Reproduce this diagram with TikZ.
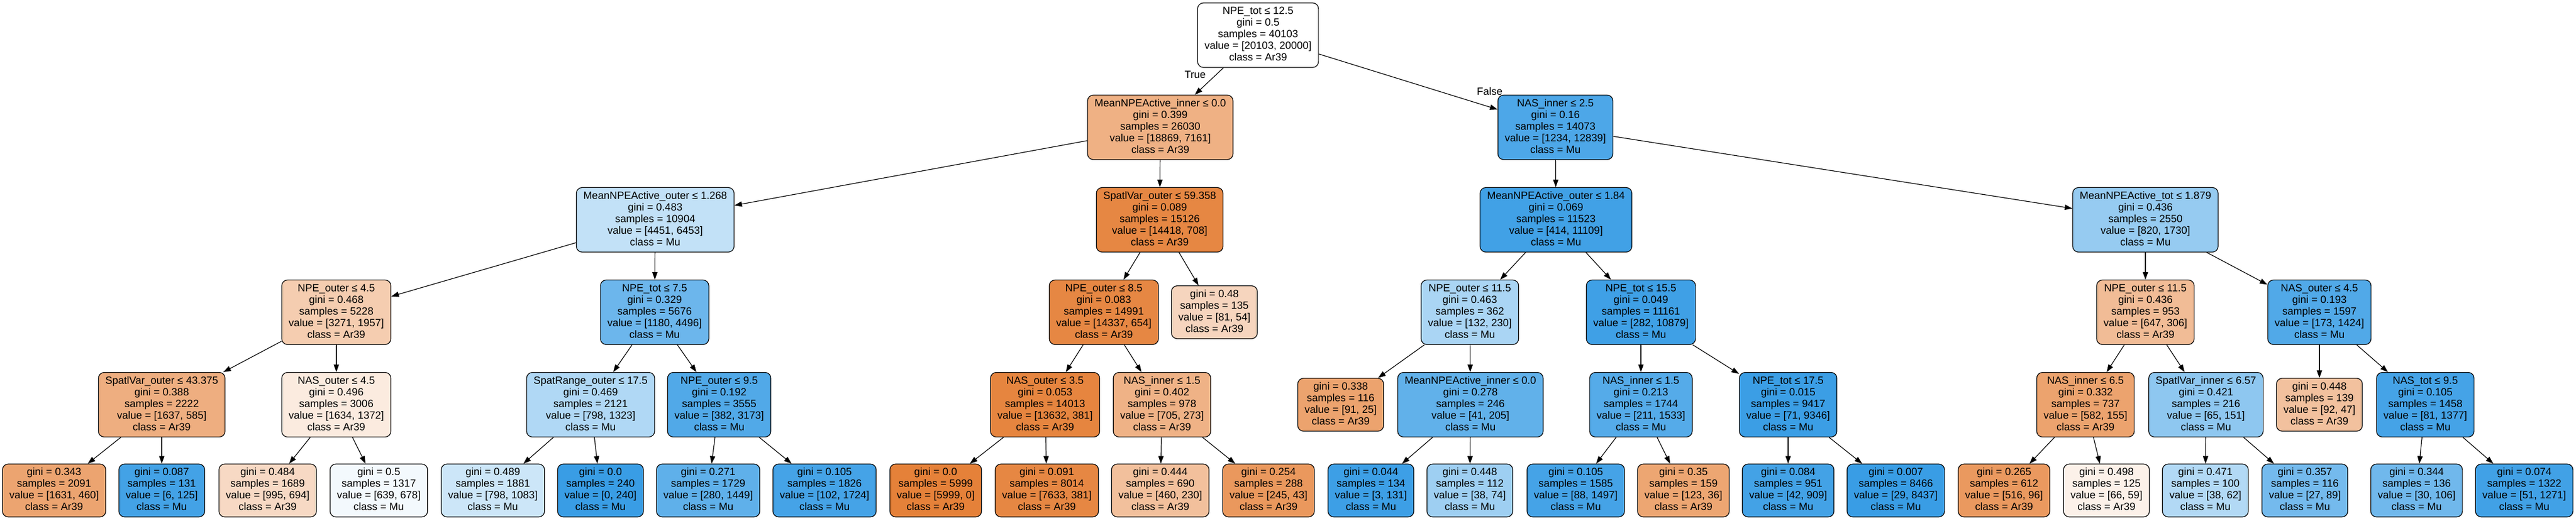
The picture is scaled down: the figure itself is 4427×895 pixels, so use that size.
\documentclass[tikz,border=0pt]{standalone}
\usepackage{fontspec}
\setmainfont{Liberation Sans}
\usetikzlibrary{arrows.meta}
\definecolor{ar}{RGB}{229,129,57}
\definecolor{mu}{RGB}{57,157,229}
\newcommand\splittext[5]{\strut #1\\\strut gini = #2\\\strut samples = #3\\\strut value = [#4]\\\strut class = #5}
\newcommand\leaftext[4]{\strut gini = #1\\\strut samples = #2\\\strut value = [#3]\\\strut class = #4}
\tikzset{
  tree/.style={draw=black, line width=1.2pt, rounded corners=10pt, align=center,
    inner xsep=12pt, inner ysep=5.5pt, font=\fontsize{18}{20}\selectfont},
  edge/.style={draw=black, line width=1.2pt, -{Triangle[length=13pt,width=9pt]}},
  lbl/.style={font=\fontsize{18}{20}\selectfont, inner sep=0pt}
}
\begin{document}
\begin{tikzpicture}[x=1pt,y=1pt]
\useasboundingbox[fill=white] (0,0) rectangle (4427,-895);
% level 0
\node[tree, fill=white] (n0) at (2162,-60.5) {\splittext{NPE\_tot ≤ 12.5}{0.5}{40103}{20103, 20000}{Ar39}};
% level 1
\node[tree, fill=ar!62!white] (n1) at (1994,-219) {\splittext{MeanNPEActive\_inner ≤ 0.0}{0.399}{26030}{18869, 7161}{Ar39}};
\node[tree, fill=mu!90!white] (n2) at (2673,-219) {\splittext{NAS\_inner ≤ 2.5}{0.16}{14073}{1234, 12839}{Mu}};
% level 2
\node[tree, fill=mu!31!white] (n3) at (1126,-378) {\splittext{MeanNPEActive\_outer ≤ 1.268}{0.483}{10904}{4451, 6453}{Mu}};
\node[tree, fill=ar!95!white] (n4) at (1993,-378) {\splittext{SpatlVar\_outer ≤ 59.358}{0.089}{15126}{14418, 708}{Ar39}};
\node[tree, fill=mu!96!white] (n5) at (2674,-378) {\splittext{MeanNPEActive\_outer ≤ 1.84}{0.069}{11523}{414, 11109}{Mu}};
\node[tree, fill=mu!53!white] (n6) at (3687,-378) {\splittext{MeanNPEActive\_tot ≤ 1.879}{0.436}{2550}{820, 1730}{Mu}};
% level 3
\node[tree, fill=ar!40!white] (n7) at (578,-537) {\splittext{NPE\_outer ≤ 4.5}{0.468}{5228}{3271, 1957}{Ar39}};
\node[tree, fill=mu!74!white] (n8) at (1125,-537) {\splittext{NPE\_tot ≤ 7.5}{0.329}{5676}{1180, 4496}{Mu}};
\node[tree, fill=ar!95!white] (n9) at (1897,-537) {\splittext{NPE\_outer ≤ 8.5}{0.083}{14991}{14337, 654}{Ar39}};
\node[tree, fill=ar!33!white] (n10) at (2087,-537) {\leaftext{0.48}{135}{81, 54}{Ar39}};
\node[tree, fill=mu!43!white] (n11) at (2526,-537) {\splittext{NPE\_outer ≤ 11.5}{0.463}{362}{132, 230}{Mu}};
\node[tree, fill=mu!97!white] (n12) at (2820,-537) {\splittext{NPE\_tot ≤ 15.5}{0.049}{11161}{282, 10879}{Mu}};
\node[tree, fill=ar!53!white] (n13) at (3687,-537) {\splittext{NPE\_outer ≤ 11.5}{0.436}{953}{647, 306}{Ar39}};
\node[tree, fill=mu!88!white] (n14) at (3986,-537) {\splittext{NAS\_outer ≤ 4.5}{0.193}{1597}{173, 1424}{Mu}};
% level 4
\node[tree, fill=ar!64!white] (n15) at (278,-696) {\splittext{SpatlVar\_outer ≤ 43.375}{0.388}{2222}{1637, 585}{Ar39}};
\node[tree, fill=ar!16!white] (n16) at (578,-696) {\splittext{NAS\_outer ≤ 4.5}{0.496}{3006}{1634, 1372}{Ar39}};
\node[tree, fill=mu!40!white] (n17) at (1015,-696) {\splittext{SpatRange\_outer ≤ 17.5}{0.469}{2121}{798, 1323}{Mu}};
\node[tree, fill=mu!88!white] (n18) at (1236,-696) {\splittext{NPE\_outer ≤ 9.5}{0.192}{3555}{382, 3173}{Mu}};
\node[tree, fill=ar!97!white] (n19) at (1796,-696) {\splittext{NAS\_outer ≤ 3.5}{0.053}{14013}{13632, 381}{Ar39}};
\node[tree, fill=ar!61!white] (n20) at (1997,-696) {\splittext{NAS\_inner ≤ 1.5}{0.402}{978}{705, 273}{Ar39}};
\node[tree, fill=ar!73!white] (n21) at (2304,-696) {\leaftext{0.338}{116}{91, 25}{Ar39}};
\node[tree, fill=mu!80!white] (n22) at (2527,-696) {\splittext{MeanNPEActive\_inner ≤ 0.0}{0.278}{246}{41, 205}{Mu}};
\node[tree, fill=mu!86!white] (n23) at (2820,-696) {\splittext{NAS\_inner ≤ 1.5}{0.213}{1744}{211, 1533}{Mu}};
\node[tree, fill=mu!99!white] (n24) at (3073,-696) {\splittext{NPE\_tot ≤ 17.5}{0.015}{9417}{71, 9346}{Mu}};
\node[tree, fill=ar!73!white] (n25) at (3584,-696) {\splittext{NAS\_inner ≤ 6.5}{0.332}{737}{582, 155}{Ar39}};
\node[tree, fill=mu!57!white] (n26) at (3791,-696) {\splittext{SpatlVar\_inner ≤ 6.57}{0.421}{216}{65, 151}{Mu}};
\node[tree, fill=ar!49!white] (n27) at (3986,-696) {\leaftext{0.448}{139}{92, 47}{Ar39}};
\node[tree, fill=mu!94!white] (n28) at (4168,-696) {\splittext{NAS\_tot ≤ 9.5}{0.105}{1458}{81, 1377}{Mu}};
% level 5 leaves
\node[tree, fill=ar!72!white] (l1) at (93,-843.5) {\leaftext{0.343}{2091}{1631, 460}{Ar39}};
\node[tree, fill=mu!95!white] (l2) at (278,-843.5) {\leaftext{0.087}{131}{6, 125}{Mu}};
\node[tree, fill=ar!30!white] (l3) at (460,-843.5) {\leaftext{0.484}{1689}{995, 694}{Ar39}};
\node[tree, fill=mu!6!white] (l4) at (651,-843.5) {\leaftext{0.5}{1317}{639, 678}{Mu}};
\node[tree, fill=mu!26!white] (l5) at (847,-843.5) {\leaftext{0.489}{1881}{798, 1083}{Mu}};
\node[tree, fill=mu] (l6) at (1032,-843.5) {\leaftext{0.0}{240}{0, 240}{Mu}};
\node[tree, fill=mu!81!white] (l7) at (1217,-843.5) {\leaftext{0.271}{1729}{280, 1449}{Mu}};
\node[tree, fill=mu!94!white] (l8) at (1417,-843.5) {\leaftext{0.105}{1826}{102, 1724}{Mu}};
\node[tree, fill=ar] (l9) at (1608,-843.5) {\leaftext{0.0}{5999}{5999, 0}{Ar39}};
\node[tree, fill=ar!95!white] (l10) at (1799,-843.5) {\leaftext{0.091}{8014}{7633, 381}{Ar39}};
\node[tree, fill=ar!50!white] (l11) at (1994,-843.5) {\leaftext{0.444}{690}{460, 230}{Ar39}};
\node[tree, fill=ar!82!white] (l12) at (2180,-843.5) {\leaftext{0.254}{288}{245, 43}{Ar39}};
\node[tree, fill=mu!98!white] (l13) at (2356,-843.5) {\leaftext{0.044}{134}{3, 131}{Mu}};
\node[tree, fill=mu!49!white] (l14) at (2526,-843.5) {\leaftext{0.448}{112}{38, 74}{Mu}};
\node[tree, fill=mu!94!white] (l15) at (2708,-843.5) {\leaftext{0.105}{1585}{88, 1497}{Mu}};
\node[tree, fill=ar!71!white] (l16) at (2893,-843.5) {\leaftext{0.35}{159}{123, 36}{Ar39}};
\node[tree, fill=mu!95!white] (l17) at (3073,-843.5) {\leaftext{0.084}{951}{42, 909}{Mu}};
\node[tree, fill=mu!100!white] (l18) at (3258,-843.5) {\leaftext{0.007}{8466}{29, 8437}{Mu}};
\node[tree, fill=ar!81!white] (l19) at (3444,-843.5) {\leaftext{0.265}{612}{516, 96}{Ar39}};
\node[tree, fill=ar!11!white] (l20) at (3620,-843.5) {\leaftext{0.498}{125}{66, 59}{Ar39}};
\node[tree, fill=mu!39!white] (l21) at (3790,-843.5) {\leaftext{0.471}{100}{38, 62}{Mu}};
\node[tree, fill=mu!70!white] (l22) at (3961,-843.5) {\leaftext{0.357}{116}{27, 89}{Mu}};
\node[tree, fill=mu!72!white] (l23) at (4153,-843.5) {\leaftext{0.344}{136}{30, 106}{Mu}};
\node[tree, fill=mu!96!white] (l24) at (4338,-843.5) {\leaftext{0.074}{1322}{51, 1271}{Mu}};
% edge labels
\node[lbl] (tlab) at (2054,-128) {True};
\node[lbl] (flab) at (2560,-157) {False};
% edges
\draw[edge] (n0) -- (n1);
\draw[edge] (n0) -- (n2);
\draw[edge] (n1) -- (n3);
\draw[edge] (n1) -- (n4);
\draw[edge] (n2) -- (n5);
\draw[edge] (n2) -- (n6);
\draw[edge] (n3) -- (n7);
\draw[edge] (n3) -- (n8);
\draw[edge] (n4) -- (n9);
\draw[edge] (n4) -- (n10);
\draw[edge] (n5) -- (n11);
\draw[edge] (n5) -- (n12);
\draw[edge] (n6) -- (n13);
\draw[edge] (n6) -- (n14);
\draw[edge] (n7) -- (n15);
\draw[edge] (n7) -- (n16);
\draw[edge] (n8) -- (n17);
\draw[edge] (n8) -- (n18);
\draw[edge] (n9) -- (n19);
\draw[edge] (n9) -- (n20);
\draw[edge] (n11) -- (n21);
\draw[edge] (n11) -- (n22);
\draw[edge] (n12) -- (n23);
\draw[edge] (n12) -- (n24);
\draw[edge] (n13) -- (n25);
\draw[edge] (n13) -- (n26);
\draw[edge] (n14) -- (n27);
\draw[edge] (n14) -- (n28);
\draw[edge] (n15) -- (l1);
\draw[edge] (n15) -- (l2);
\draw[edge] (n16) -- (l3);
\draw[edge] (n16) -- (l4);
\draw[edge] (n17) -- (l5);
\draw[edge] (n17) -- (l6);
\draw[edge] (n18) -- (l7);
\draw[edge] (n18) -- (l8);
\draw[edge] (n19) -- (l9);
\draw[edge] (n19) -- (l10);
\draw[edge] (n20) -- (l11);
\draw[edge] (n20) -- (l12);
\draw[edge] (n22) -- (l13);
\draw[edge] (n22) -- (l14);
\draw[edge] (n23) -- (l15);
\draw[edge] (n23) -- (l16);
\draw[edge] (n24) -- (l17);
\draw[edge] (n24) -- (l18);
\draw[edge] (n25) -- (l19);
\draw[edge] (n25) -- (l20);
\draw[edge] (n26) -- (l21);
\draw[edge] (n26) -- (l22);
\draw[edge] (n28) -- (l23);
\draw[edge] (n28) -- (l24);
\end{tikzpicture}
\end{document}
